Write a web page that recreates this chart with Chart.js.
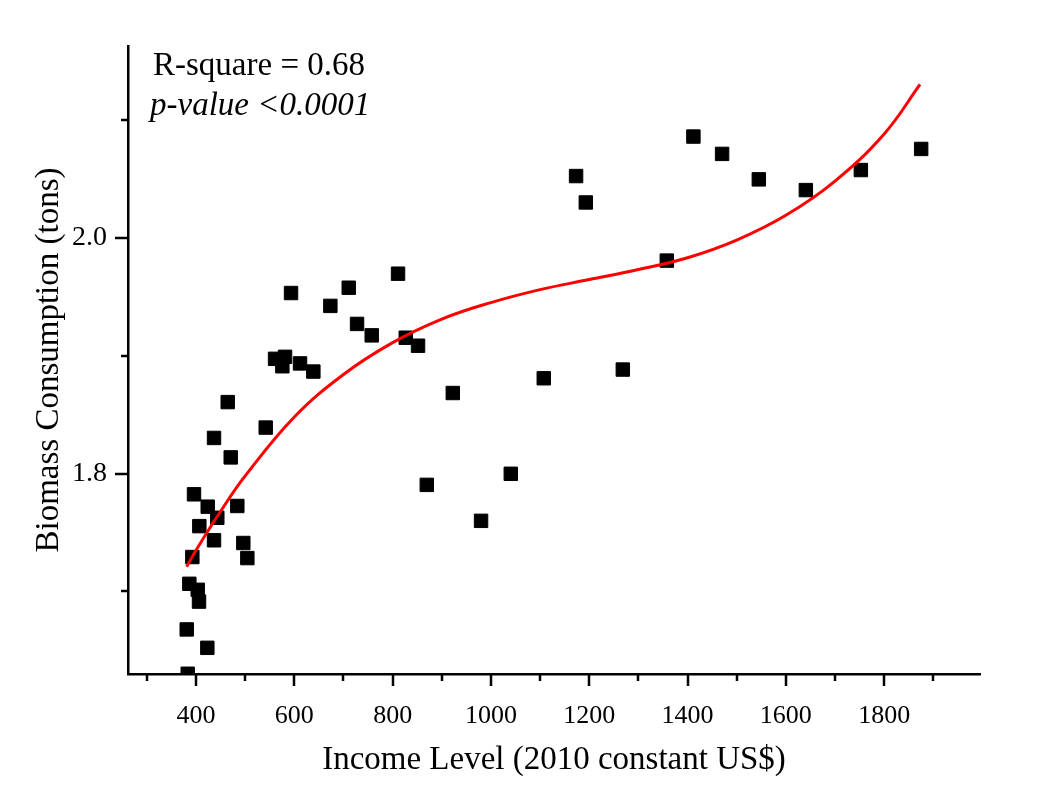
<!DOCTYPE html>
<html>
<head>
<meta charset="utf-8">
<script src="https://cdn.jsdelivr.net/npm/chart.js@4/dist/chart.umd.min.js"></script>
<style>
  html, body { margin: 0; padding: 0; background: #fff; }
  #wrap { width: 1062px; height: 789px; position: relative; }
</style>
</head>
<body>
<div id="wrap"><canvas id="chart"></canvas></div>
<script>
// observed countries: income (2010 constant US$) and biomass consumption (tons)
const incomeX = [464.5, 436.6, 470.6, 541.8, 395.9, 423.8, 443.3, 484, 406.7, 436.6,
  496.2, 504.4, 392.5, 386.4, 403.5, 406.1, 381.1, 423, 383.1,
  560.8, 581.1, 575.6, 611.6, 638.7, 593.3, 710.7, 673.3, 811, 727.6, 757.5,
  826.7, 851.7, 922.4, 1107.5, 1268.3, 1040.4, 869.5, 979.9,
  1411.9, 1470.3, 1173.2, 1193, 1545, 1640.7, 1752.6, 1875.3, 1357.8];
const biomassY = [1.8606, 1.8302, 1.8137, 1.8390, 1.7824, 1.7719, 1.7625, 1.7725, 1.7554, 1.7434,
  1.7411, 1.7283, 1.7292, 1.7065, 1.7014, 1.6914, 1.6678, 1.6522, 1.6302,
  1.8973, 1.8990, 1.8910, 1.8934, 1.8865, 1.9531, 1.9576, 1.9422, 1.9695, 1.9269, 1.9172,
  1.9152, 1.9084, 1.8683, 1.8808, 1.8882, 1.7998, 1.7904, 1.7599,
  2.0858, 2.0711, 2.0523, 2.0299, 2.0495, 2.0404, 2.0574, 2.0753, 1.9806];

// fitted curve
const fitX = [381, 400, 450, 500, 600, 700, 800, 900, 1000, 1100, 1200, 1300, 1400, 1500, 1600, 1700, 1800, 1873];
const fitY = [1.721, 1.735, 1.768, 1.798, 1.848, 1.884, 1.911, 1.931, 1.945, 1.956, 1.9645, 1.973, 1.983, 1.998, 2.019, 2.048, 2.088, 2.130];

const xMajor = [400, 600, 800, 1000, 1200, 1400, 1600, 1800];
const xMinor = [300, 500, 700, 900, 1100, 1300, 1500, 1700, 1900];
const yMajor = [1.8, 2.0];
const yMinor = [1.7, 1.9, 2.1];

const statText = ["R-square = 0.68", "p-value <0.0001"];

const serif = "'Liberation Serif', 'Times New Roman', serif";

const isMajor = (list, v) => list.some(m => Math.abs(m - v) < 1e-6);

// outward major/minor ticks plus the stats text
const decorPlugin = {
  id: 'decor',
  afterDraw(chart) {
    const ctx = chart.ctx;
    const { left, bottom } = chart.chartArea;
    const xs = chart.scales.x, ys = chart.scales.y;
    ctx.save();
    ctx.strokeStyle = '#000';
    ctx.lineWidth = 2.5;
    ctx.beginPath();
    xMajor.concat(xMinor).forEach(v => {
      const px = Math.round(xs.getPixelForValue(v));
      const len = isMajor(xMajor, v) ? 12 : 7;
      ctx.moveTo(px, bottom);
      ctx.lineTo(px, bottom + len);
    });
    yMajor.concat(yMinor).forEach(v => {
      const py = Math.round(ys.getPixelForValue(v));
      const len = isMajor(yMajor, v) ? 13 : 7;
      ctx.moveTo(left, py);
      ctx.lineTo(left - len, py);
    });
    ctx.stroke();

    ctx.fillStyle = '#000';
    ctx.textBaseline = 'alphabetic';
    ctx.font = "33px " + serif;
    ctx.fillText(statText[0], 153, 75);
    ctx.font = "italic 33px " + serif;
    ctx.fillText(statText[1], 150, 115);
    ctx.restore();
  }
};

new Chart(document.getElementById('chart'), {
  type: 'scatter',
  data: {
    datasets: [
      {
        type: 'line',
        label: 'fit',
        data: fitX.map((x, i) => ({ x: x, y: fitY[i] })),
        borderColor: '#ff0000',
        borderWidth: 3,
        pointRadius: 0,
        fill: false,
        tension: 0.4
      },
      {
        label: 'countries',
        data: incomeX.map((x, i) => ({ x: x, y: biomassY[i] })),
        pointStyle: 'rect',
        pointRadius: 9.5,
        backgroundColor: '#000',
        borderColor: '#000',
        borderWidth: 1
      }
    ]
  },
  options: {
    responsive: true,
    maintainAspectRatio: false,
    animation: false,
    layout: { padding: { left: 0, top: 46, right: 82, bottom: 0 } },
    plugins: { legend: { display: false }, tooltip: { enabled: false } },
    scales: {
      x: {
        type: 'linear',
        min: 261.6,
        max: 1995,
        afterBuildTicks: s => { s.ticks = xMajor.concat(xMinor).sort((a, b) => a - b).map(v => ({ value: v })); },
        afterFit: s => { s.height = 115; },
        border: { display: true, color: '#000', width: 2.5 },
        grid: { drawOnChartArea: false, color: 'rgba(0,0,0,0)', tickLength: 12 },
        ticks: {
          autoSkip: false,
          maxRotation: 0,
          padding: 15,
          color: '#000',
          font: { family: serif, size: 26 },
          callback: v => isMajor(xMajor, v) ? String(v) : ''
        },
        title: {
          display: true,
          text: 'Income Level (2010 constant US$)',
          color: '#000',
          font: { family: serif, size: 33 },
          padding: { top: 0, bottom: 9 }
        }
      },
      y: {
        type: 'linear',
        min: 1.630,
        max: 2.1626,
        afterBuildTicks: s => { s.ticks = yMajor.concat(yMinor).sort((a, b) => a - b).map(v => ({ value: v })); },
        afterFit: s => { s.width = 128; },
        border: { display: true, color: '#000', width: 2.5 },
        grid: { drawOnChartArea: false, color: 'rgba(0,0,0,0)', tickLength: 12 },
        ticks: {
          autoSkip: false,
          padding: 9,
          color: '#000',
          font: { family: serif, size: 28 },
          callback: v => isMajor(yMajor, v) ? v.toFixed(1) : ''
        },
        title: {
          display: true,
          text: 'Biomass Consumption (tons)',
          color: '#000',
          font: { family: serif, size: 33 },
          padding: { top: 30, bottom: 0 }
        }
      }
    }
  },
  plugins: [decorPlugin]
});
</script>
</body>
</html>
